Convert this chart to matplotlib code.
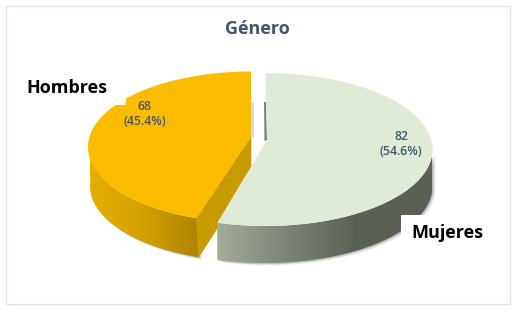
import numpy as np
import matplotlib
matplotlib.use("Agg")
import matplotlib.pyplot as plt
from matplotlib.colors import LinearSegmentedColormap
from matplotlib.patches import Polygon, Rectangle

# chart data
categories = ["Hombres", "Mujeres"]
values = [68, 82]
percents = ["45.4%", "54.6%"]
title = "Género"

plt.rcParams["font.family"] = ["Open Sans", "DejaVu Sans"]

fig = plt.figure(figsize=(5.17, 3.11), dpi=100)
ax = fig.add_axes([0, 0, 1, 1])
ax.set_xlim(0, 517)
ax.set_ylim(311, 0)
ax.axis("off")

# outer frame
ax.add_patch(Rectangle((5.5, 5.5), 504, 298, fc="white", ec="#E1E4EC", lw=1))


def arc(cx, cy, a, b, start, stop):
    t = np.radians(np.linspace(start, stop, 160))
    return np.column_stack([cx + a * np.cos(t), cy - b * np.sin(t)])


def gradient_fill(poly, colors, stops, x0, x1, zorder):
    # horizontal gradient clipped to the side wall
    cmap = LinearSegmentedColormap.from_list("side", list(zip(stops, colors)))
    ys = poly[:, 1]
    im = ax.imshow(np.linspace(0, 1, 256).reshape(1, -1), cmap=cmap, aspect="auto",
                   extent=[x0, x1, ys.max(), ys.min()], zorder=zorder)
    clip = Polygon(poly, transform=ax.transData, fc="none", ec="none")
    ax.add_patch(clip)
    im.set_clip_path(clip)
    ax.set_xlim(0, 517)
    ax.set_ylim(311, 0)


def shadow(poly, zorder):
    for off, alpha in ((3, 0.10), (2, 0.16), (1, 0.25)):
        ax.add_patch(Polygon(poly + [off, off * 0.8], fc="#606060", ec="none", alpha=alpha, zorder=zorder))


share = values[0] / sum(values) * 360
view_shift = 2.7  # the 3d view squeezes the near side a little
depth = 39

# Hombres slice, going counterclockwise from the top
cx, cy, a, b = 251, 147, 163, 75.5
apex = np.array([251, 137])
end = 90 + share - view_shift
rim = arc(cx, cy, a, b, 90, end)
wall = arc(cx, cy, a, b, 176, end)
wall_poly = np.vstack([wall, wall[::-1] + [2, depth]])
cut_poly = np.array([apex, rim[-1], rim[-1] + [2, depth], apex + [0, depth]])
shadow(wall_poly, 2)
ax.add_patch(Rectangle((251, 102), 3, 35, fc="#DADADA", ec="none", zorder=2))
gradient_fill(wall_poly, ["#E6AE00", "#D6A200", "#B08200"], [0, 0.45, 1], 90, 200, 3)
ax.add_patch(Polygon(cut_poly, fc="#C79A00", ec="#C79A00", lw=0.5, zorder=3))
ax.add_patch(Polygon(np.vstack([apex, rim]), fc="#FBBC00", ec="none", zorder=4))

# Mujeres slice, going clockwise from the top
cx, cy, a, b = 265.5, 149.5, 167, 76.5
apex = np.array([267, 140])
end = 90 - (360 - share)
rim = arc(cx, cy, a, b, 90, end)
wall = arc(cx, cy, a, b, 2, end)
wall_poly = np.vstack([wall, wall[::-1] + [0, depth - 2]])
back_poly = np.array([[264, 102], [266, 102], [267, 140], [264.5, 141]])
shadow(wall_poly, 2)
ax.add_patch(Polygon(back_poly, fc="#7C8176", ec="none", zorder=3))
gradient_fill(wall_poly, ["#A3AB9A", "#80877A", "#5B6054", "#5B6054"], [0, 0.3, 0.65, 1], 217, 432, 3)
ax.add_patch(Polygon(np.vstack([apex, rim]), fc="#DFEBD7", ec="none", zorder=4))

# white label boxes that cut into the slices
ax.add_patch(Rectangle((22, 72), 104, 33, fc="white", ec="none", zorder=5))
ax.add_patch(Rectangle((401, 215), 88, 36, fc="white", ec="none", zorder=5))

# texts
ax.text(257.5, 29, title, fontsize=13, fontweight="bold", color="#44546A", ha="center", va="center", zorder=6)
ax.text(67, 88, categories[0], fontsize=13, fontweight="bold", color="black", ha="center", va="center", zorder=6)
ax.text(447.5, 233, categories[1], fontsize=13, fontweight="bold", color="black", ha="center", va="center", zorder=6)
ax.text(145, 114, f"{values[0]}\n({percents[0]})", fontsize=8.8, fontweight="semibold", color="#44546A", ha="center",
        va="center", linespacing=1.25, zorder=6)
ax.text(401, 144, f"{values[1]}\n({percents[1]})", fontsize=8.8, fontweight="semibold", color="#44546A", ha="center",
        va="center", linespacing=1.25, zorder=6)

fig.savefig("out.png", dpi=100)
